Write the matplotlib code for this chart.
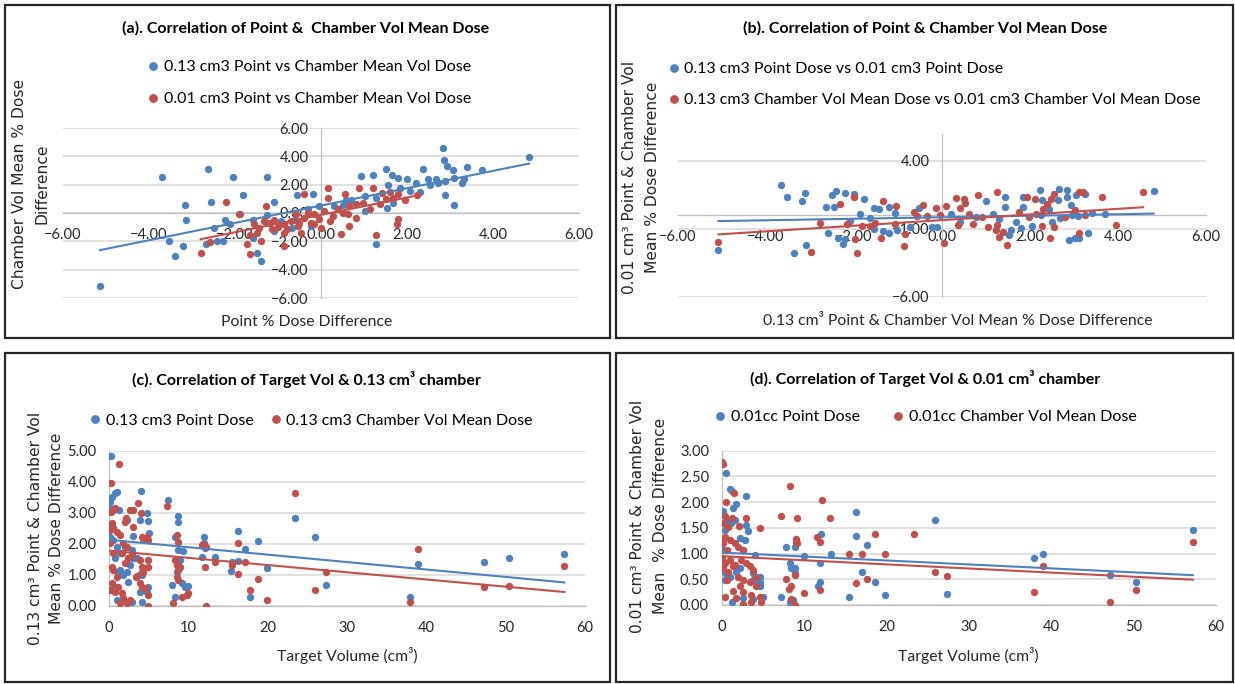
import numpy as np
import matplotlib
matplotlib.use('Agg')
import matplotlib.pyplot as plt
from matplotlib.patches import Rectangle
from matplotlib.lines import Line2D

# Figure size in pixels
W, H = 1235, 684

BLUE = '#4f81bd'
RED = '#c0504d'
GRID = '#d9d9d9'
AXIS = '#bfbfbf'
CAL = 'Lato'          # stands in for Calibri
VER = 'DejaVu Sans'   # stands in for Verdana

"(a) point % diff vs chamber vol mean % diff"
a_blue = [(-5.14, -5.13), (-3.70, 2.53), (-2.63, 3.14), (-2.04, 2.55), (-1.25, 2.53), (-1.81, 1.24),
          (-3.16, 0.54), (-3.13, -0.49), (-2.55, 0.77), (-1.09, 0.80), (-1.88, -0.09), (-3.54, -2.01),
          (-3.22, -2.34), (-3.39, -3.00), (-2.67, -2.20), (-2.49, -1.03), (-2.41, -2.01), (-2.27, -2.01),
          (-2.23, -0.52), (-2.12, -0.80), (-1.48, -2.79), (-1.39, -3.37), (-1.57, -0.52), (-1.25, -0.14),
          (-1.09, -1.26), (-1.57, -1.78), (-0.55, 1.24), (-0.19, 1.31), (-0.23, -0.91), (-0.68, -1.03),
          (-0.05, 0.50), (-0.93, -0.56), (-0.60, -0.50), (-0.30, 0.30), (0.50, 0.60), (0.70, 0.90),
          (2.84, 4.59), (4.84, 3.98), (2.85, 3.72), (2.93, 3.30), (3.07, 3.07), (3.40, 3.26),
          (3.75, 3.02), (2.38, 3.14), (1.51, 3.11), (0.92, 2.60), (1.20, 2.65), (1.65, 2.67),
          (1.80, 2.48), (2.01, 2.37), (2.21, 2.13), (2.48, 2.37), (2.68, 2.41), (2.54, 2.01),
          (2.73, 2.13), (2.89, 2.25), (3.10, 2.48), (3.28, 2.13), (3.32, 2.37), (2.89, 1.24),
          (3.09, 0.54), (2.30, 1.50), (2.07, 1.55), (1.84, 1.73), (1.55, 1.97), (1.54, 0.37),
          (1.29, 1.08), (1.02, 1.19), (1.02, 0.14), (0.31, 0.49), (1.27, -2.20), (1.68, 0.73),
          (0.59, 0.89)]
a_red = [(-2.80, -2.79), (-2.20, 0.80), (-2.57, -2.08), (-1.66, -2.86), (-1.71, -2.20), (-1.40, -2.01),
         (-1.66, -1.55), (-1.91, -0.09), (-1.28, 0.49), (-0.86, -2.32), (-0.39, 1.31), (0.16, 1.73),
         (-0.47, -1.38), (0.00, -1.03), (-1.56, -0.80), (-1.44, -1.03), (-1.32, -0.56), (-1.21, -0.68),
         (-1.09, -0.52), (-1.00, -0.98), (-0.86, -0.80), (-0.78, -1.15), (-0.70, -0.56), (-0.58, -0.09),
         (-0.51, -0.68), (-0.39, -0.33), (-0.31, 0.02), (-0.16, -0.09), (-0.04, -0.44), (-1.48, -1.38),
         (-1.13, -1.15), (-0.86, -1.38), (-0.54, -0.91), (-0.23, -0.68), (0.16, 1.08), (0.55, 1.31),
         (0.88, 1.78), (1.20, 1.78), (1.41, 1.43), (1.60, 1.50), (1.80, 1.36), (1.95, 0.89),
         (2.24, 1.24), (1.80, -0.44), (1.77, -0.80), (1.29, -1.55), (0.47, -1.45), (0.66, -0.91),
         (0.08, 0.14), (0.27, -0.21), (0.39, 0.26), (0.51, 0.02), (0.66, 0.49), (0.82, 0.66),
         (0.98, 0.73), (1.13, 0.26), (1.37, 0.61), (1.52, 0.96), (0.20, -0.56), (-0.16, -0.80),
         (0.82, -0.33), (0.62, -0.09), (1.68, 1.08)]

"(b) 0.13 cm3 vs 0.01 cm3"
b_blue = [(-5.08, -2.59), (-3.65, 2.21), (-3.52, 1.30), (-3.18, 1.03), (-3.11, 1.60), (-3.36, -2.76),
          (-3.09, -2.20), (-2.64, 0.59), (-2.50, 1.48), (-2.41, 1.79), (-2.45, 0.59), (-2.20, 1.62),
          (-2.01, 1.55), (-1.78, 1.18), (-2.59, -1.34), (-2.36, -1.66), (-2.25, -2.10), (-2.20, -1.78),
          (-1.86, 0.05), (-2.08, -0.44), (-1.54, 0.50), (-1.44, 0.42), (-1.21, 0.62), (-1.54, -1.05),
          (-1.35, -1.17), (-1.21, -1.34), (-1.06, 0.13), (-1.02, -1.10), (-0.72, -0.85), (-0.53, 0.54),
          (-0.23, -0.85), (-0.11, -0.85), (-1.63, -0.24), (4.81, 1.75), (2.65, 1.95), (2.83, 1.82),
          (2.83, 1.33), (2.23, 1.82), (3.05, 1.46), (3.26, 1.53), (1.44, 1.33), (1.44, 0.60),
          (1.00, 1.02), (1.83, 0.60), (1.85, 1.33), (2.28, 1.09), (2.43, 0.48), (2.63, 1.09),
          (2.94, 0.72), (2.95, -0.01), (3.41, 0.16), (3.71, 0.06), (2.88, -1.84), (3.03, -1.72),
          (3.12, -1.67), (3.31, -1.28), (2.05, -0.82), (1.79, -0.94), (1.53, -1.43), (1.56, -1.11),
          (1.68, -0.50), (1.30, -0.25), (1.15, 0.11), (0.77, -0.13), (0.21, 0.11), (0.41, -0.50),
          (2.50, -0.50), (2.24, -0.01), (2.69, -0.20), (3.10, -0.06)]
b_red = [(-5.08, -2.00), (-2.98, -2.69), (-2.78, -0.61), (-2.31, 0.81), (-2.17, -0.66), (-2.01, 1.35),
         (-1.98, -1.78), (-1.93, -2.76), (-1.82, -0.78), (-1.63, -0.78), (-1.52, -0.61), (-1.33, 1.03),
         (-1.39, -1.66), (-1.04, 0.69), (-1.06, -0.66), (-0.87, -2.27), (-0.83, -1.42), (-0.64, 0.25),
         (-0.57, -0.04), (-0.43, 0.74), (-0.34, -0.04), (-0.14, 0.54), (-0.05, 0.00), (0.04, -2.08),
         (0.10, 0.70), (4.57, 1.70), (3.11, 1.70), (3.20, 1.70), (3.63, 1.33), (3.95, -0.74),
         (2.54, 1.53), (2.48, 1.21), (2.39, 0.85), (2.30, 0.48), (1.94, 1.33), (2.11, 1.21),
         (1.25, 1.70), (0.81, 1.46), (0.51, 1.21), (0.53, 0.92), (0.31, 1.26), (0.41, 0.55),
         (0.62, 0.06), (0.92, -0.13), (1.26, -0.74), (1.38, -1.23), (1.30, -1.60), (1.47, -2.21),
         (1.23, -1.11), (1.75, 0.23), (1.98, -0.13), (2.14, 0.11), (2.28, -0.79), (2.45, -1.67),
         (2.54, -0.87), (2.80, -0.13), (3.03, 0.36), (3.11, -1.28), (0.36, -0.74), (0.70, -0.62),
         (1.05, -0.87), (3.26, -0.01)]

"(c) target volume vs 0.13 cm3 chamber"
c_blue = [(0.25, 4.84), (0.13, 3.36), (0.34, 3.52), (0.76, 3.63), (1.05, 3.69), (0.00, 3.20),
          (4.03, 3.72), (7.39, 3.42), (8.66, 2.90), (8.66, 2.72), (4.75, 3.01), (4.96, 2.74),
          (5.08, 2.36), (3.91, 2.77), (1.26, 3.09), (2.23, 2.77), (3.07, 2.26), (8.32, 2.23),
          (8.74, 1.80), (9.29, 1.78), (12.0, 2.23), (12.0, 2.04), (11.7, 1.56), (13.3, 1.58),
          (12.1, 1.85), (15.4, 1.12), (15.5, 1.42), (0.13, 2.23), (0.34, 2.55), (0.55, 2.12),
          (0.97, 1.91), (1.39, 1.69), (2.02, 1.91), (2.65, 1.58), (2.86, 1.80), (3.07, 1.53),
          (3.49, 1.53), (0.76, 1.53), (1.39, 1.15), (1.81, 0.99), (2.23, 1.10), (2.65, 1.31),
          (1.18, 1.05), (3.99, 1.05), (4.12, 0.99), (3.91, 0.45), (4.12, 0.13), (0.97, 0.18),
          (2.86, 0.13), (4.75, 0.45), (4.96, 0.61), (7.90, 0.67), (8.53, 1.10), (8.95, 1.48),
          (9.16, 0.74), (9.58, 0.61), (10.0, 0.64), (8.32, 0.29), (2.44, 0.78), (0.76, 0.61),
          (16.3, 2.42), (17.15, 1.82), (16.3, 1.45), (18.75, 2.10), (19.9, 1.23), (23.45, 2.84),
          (25.98, 2.21), (27.4, 0.66), (38.0, 0.27), (39.0, 1.36), (47.25, 1.42), (50.4, 1.55),
          (57.4, 1.68), (17.75, 0.29)]
c_red = [(1.26, 4.58), (0.25, 3.98), (7.27, 3.23), (0.55, 3.09), (0.76, 3.15), (0.21, 3.04),
         (3.70, 3.33), (2.65, 3.09), (3.07, 3.09), (4.03, 3.01), (0.13, 2.45), (0.55, 2.50),
         (0.97, 2.39), (0.34, 2.66), (1.39, 2.28), (2.02, 2.72), (2.14, 2.82), (3.07, 2.55),
         (4.75, 2.23), (4.96, 2.12), (0.13, 2.02), (4.12, 2.23), (8.61, 2.28), (8.74, 2.07),
         (11.9, 1.98), (12.2, 1.91), (1.81, 2.02), (2.23, 1.91), (0.55, 1.69), (1.60, 1.69),
         (4.33, 2.14), (2.94, 1.64), (2.44, 1.53), (3.91, 1.48), (4.96, 1.48), (8.32, 1.48),
         (8.53, 1.31), (8.95, 1.26), (8.66, 1.15), (12.1, 1.26), (13.4, 1.42), (11.7, 1.96),
         (15.5, 1.31), (0.55, 1.15), (0.34, 1.26), (0.97, 0.94), (2.02, 1.37), (3.49, 0.96),
         (4.12, 1.26), (4.33, 1.10), (4.96, 1.26), (0.34, 0.72), (1.18, 0.61), (0.13, 0.51),
         (0.76, 0.45), (1.60, 0.40), (1.81, 0.24), (2.23, 0.08), (2.65, 0.18), (1.39, 0.08),
         (3.91, 0.72), (4.12, 0.61), (4.54, 0.56), (4.96, 0.34), (4.87, 0.00), (3.40, 0.92),
         (8.03, 0.08), (8.53, 0.94), (8.74, 0.83), (9.16, 0.29), (9.79, 0.34), (12.2, 0.00),
         (10.0, 0.40), (16.3, 2.02), (17.15, 1.42), (16.3, 1.02), (17.75, 0.51), (18.75, 0.85),
         (19.9, 0.18), (23.45, 3.65), (25.98, 0.50), (27.4, 1.09), (38.0, 0.11), (39.0, 1.83),
         (47.25, 0.61), (50.4, 0.65), (57.4, 1.29)]

"(d) target volume vs 0.01 cm3 chamber"
d_blue = [(0.53, 2.56), (1.01, 2.25), (1.33, 2.22), (3.03, 2.11), (1.74, 1.96), (1.41, 1.88),
          (0.20, 1.83), (0.61, 1.65), (1.21, 1.59), (3.03, 1.56), (3.23, 1.43), (1.62, 1.65),
          (2.22, 1.30), (2.83, 1.26), (0.20, 1.07), (0.00, 1.26), (0.40, 1.46), (4.04, 0.97),
          (2.63, 1.07), (7.88, 1.12), (8.89, 1.13), (9.09, 1.20), (10.0, 0.96), (12.1, 1.39),
          (12.0, 0.82), (8.28, 0.82), (8.48, 0.71), (8.89, 0.71), (8.89, 0.62), (11.9, 0.45),
          (11.7, 0.36), (0.40, 0.62), (1.01, 0.55), (1.82, 0.65), (2.22, 0.71), (3.84, 0.49),
          (4.65, 0.55), (4.65, 0.45), (4.65, 0.36), (0.40, 0.49), (3.84, 0.62), (1.33, 0.05),
          (2.63, 0.13), (5.05, 0.16), (7.27, 0.16), (8.28, 0.06), (8.69, 0.10), (3.84, 0.11),
          (13.3, 1.00), (16.35, 1.81), (16.35, 1.35), (17.66, 1.17), (17.05, 0.64), (18.67, 0.44),
          (19.8, 0.19), (15.5, 0.15), (25.9, 1.65), (27.36, 0.21), (37.9, 0.92), (38.95, 1.00),
          (47.15, 0.58), (50.3, 0.45), (57.2, 1.46)]
d_red = [(0.12, 2.79), (0.20, 2.74), (8.28, 2.32), (1.54, 2.18), (0.53, 2.01), (7.19, 1.74),
         (9.21, 1.70), (12.2, 2.05), (13.2, 1.69), (3.03, 1.70), (4.65, 1.49), (0.40, 1.73),
         (1.33, 1.69), (2.14, 1.54), (0.20, 1.59), (0.81, 1.52), (0.40, 1.33), (1.01, 1.26),
         (1.62, 1.20), (0.20, 1.20), (0.69, 1.07), (2.02, 1.13), (2.63, 1.07), (9.09, 1.28),
         (9.17, 1.21), (11.6, 1.33), (12.0, 1.23), (0.08, 0.91), (0.40, 0.81), (1.01, 0.87),
         (1.62, 0.78), (2.42, 0.87), (3.03, 0.81), (3.43, 0.75), (3.84, 0.68), (0.20, 0.71),
         (0.81, 0.65), (1.41, 0.75), (2.02, 0.55), (2.63, 0.49), (3.43, 0.45), (4.24, 0.55),
         (0.61, 0.49), (0.40, 0.16), (1.41, 0.28), (2.22, 0.36), (2.63, 0.26), (3.64, 0.19),
         (1.82, 0.13), (2.55, 0.01), (3.64, 0.06), (4.85, 0.06), (4.65, 0.16), (4.24, 0.36),
         (7.88, 0.50), (8.20, 0.32), (8.48, 0.36), (8.48, 0.11), (8.89, 0.00), (8.89, 0.58),
         (9.98, 0.24), (11.9, 0.29), (15.5, 1.00), (17.05, 1.00), (18.67, 1.39), (19.8, 1.00),
         (16.35, 0.42), (17.66, 0.51), (23.3, 1.38), (25.9, 0.65), (27.36, 0.57), (37.9, 0.25),
         (38.95, 0.75), (47.15, 0.06), (50.3, 0.29), (57.2, 1.22)]

"Linear trendlines as read off the chart: (slope, intercept) for blue, red"
a_fits = [(0.612, 0.526), (0.613, -0.133)]
b_fits = [(0.0556, -0.158), (0.207, -0.368)]
c_fits = [(-0.0240, 2.13), (-0.0233, 1.78)]
d_fits = [(-0.0077, 1.02), (-0.0080, 0.95)]

titles = ['(a). Correlation of Point &  Chamber Vol Mean Dose',
          '(b). Correlation of Point & Chamber Vol Mean Dose',
          '(c). Correlation of Target Vol & 0.13 cm³ chamber',
          '(d). Correlation of Target Vol & 0.01 cm³ chamber']
legend_labels = [['0.13 cm3 Point vs Chamber Mean Vol Dose', '0.01 cm3 Point vs Chamber Mean Vol Dose'],
                 ['0.13 cm3 Point Dose vs 0.01 cm3 Point Dose',
                  '0.13 cm3 Chamber Vol Mean Dose vs 0.01 cm3 Chamber Vol Mean Dose'],
                 ['0.13 cm3 Point Dose', '0.13 cm3 Chamber Vol Mean Dose'],
                 ['0.01cc Point Dose', '0.01cc Chamber Vol Mean Dose']]
ylabels = [['Chamber Vol Mean % Dose', 'Difference'],
           ['0.01 cm³ Point & Chamber Vol', 'Mean % Dose Difference'],
           ['0.13 cm³ Point & Chamber Vol', 'Mean % Dose Difference'],
           ['0.01 cm³ Point & Chamber Vol', 'Mean  % Dose Difference']]
xlabels = ['Point % Dose Difference',
           '0.13 cm³ Point & Chamber Vol Mean % Dose Difference',
           'Target Volume (cm³)', 'Target Volume (cm³)']


def fx(x):
    return x / W


def fy(y):
    return 1 - y / H


def box(l, t, r, b):
    return [l / W, 1 - b / H, (r - l) / W, (b - t) / H]


def scatter_pair(ax, blue, red, fits):
    for pts, c in [(blue, BLUE), (red, RED)]:
        xs, ys = np.array(pts).T
        ax.scatter(xs, ys, s=28, color=c, linewidths=0, zorder=3)
    # trendline over the x range of each series
    for pts, c, (k, m) in zip([blue, red], [BLUE, RED], fits):
        xs = np.array(pts)[:, 0]
        xx = np.array([xs.min(), xs.max()])
        ax.plot(xx, k * xx + m, color=c, lw=1.5, zorder=4)


def style_axes(ax, crossing):
    ax.set_facecolor('none')
    for s in ['top', 'right']:
        ax.spines[s].set_visible(False)
    for s in ['left', 'bottom']:
        ax.spines[s].set_color(AXIS)
        ax.spines[s].set_linewidth(0.9)
        if crossing:
            ax.spines[s].set_position('zero')
    ax.yaxis.grid(True, color=GRID, lw=1.1)
    ax.set_axisbelow(True)
    ax.tick_params(length=0, labelsize=10.5, labelcolor='#262626', labelfontfamily=CAL)
    ax.tick_params(axis='x', pad=11)
    ax.tick_params(axis='y', pad=9)


def legend_entry(x, y, color, label):
    h = Line2D([], [], marker='o', ls='none', color=color, markersize=5.3)
    fig.legend([h], [label], loc='center left', bbox_to_anchor=(fx(x - 4), fy(y)),
               frameon=False, borderpad=0, borderaxespad=0, handlelength=0.55,
               handletextpad=0.38, prop={'family': CAL, 'size': 11.5})


fig = plt.figure(figsize=(W / 100, H / 100), dpi=100)

# panel frames
for l, t, r, b in [(5, 5, 610, 338), (616, 5, 1233, 338), (5, 353, 610, 682), (616, 353, 1233, 682)]:
    fig.patches.append(Rectangle((fx(l), fy(b)), (r - l) / W, (b - t) / H, transform=fig.transFigure,
                                 fill=False, edgecolor='#262626', lw=1.6))

# (a)
ax = fig.add_axes(box(63, 128, 579, 298))
style_axes(ax, True)
scatter_pair(ax, a_blue, a_red, a_fits)
ax.set_xlim(-6, 6)
ax.set_ylim(-6, 6)
ax.set_xticks(np.arange(-6, 7, 2))
ax.set_yticks(np.arange(-6, 7, 2))
ax.xaxis.set_major_formatter('{x:.2f}')
ax.yaxis.set_major_formatter('{x:.2f}')

# (b)
ax = fig.add_axes(box(678, 133.5, 1206, 296.7))
style_axes(ax, True)
scatter_pair(ax, b_blue, b_red, b_fits)
ax.set_xlim(-6, 6)
ax.set_ylim(-6, 6)
ax.set_xticks(np.arange(-6, 7, 2))
ax.set_yticks([-6, -1, 4])
ax.xaxis.set_major_formatter('{x:.2f}')
ax.yaxis.set_major_formatter('{x:.2f}')

# (c)
ax = fig.add_axes(box(109, 451, 585, 605.7))
style_axes(ax, False)
scatter_pair(ax, c_blue, c_red, c_fits)
ax.set_xlim(0, 60)
ax.set_ylim(0, 5)
ax.set_xticks(np.arange(0, 61, 10))
ax.set_yticks(np.arange(0, 5.01, 1))
ax.yaxis.set_major_formatter('{x:.2f}')

# (d)
ax = fig.add_axes(box(721.5, 450.7, 1216, 605))
style_axes(ax, False)
scatter_pair(ax, d_blue, d_red, d_fits)
ax.set_xlim(0, 60)
ax.set_ylim(0, 3)
ax.set_xticks(np.arange(0, 61, 10))
ax.set_yticks(np.arange(0, 3.01, 0.5))
ax.yaxis.set_major_formatter('{x:.2f}')

# titles
for (x, y), t in zip([(306, 28), (925, 28), (306, 379), (925, 378)], titles):
    fig.text(fx(x), fy(y), t, ha='center', va='center', family=CAL, weight='bold', size=11.5)

# legends
for (x1, y1, x2, y2), labs in zip([(153, 67, 153, 99), (673.5, 69, 673.5, 100),
                                  (95, 420.7, 275.5, 420.7), (720, 417, 898, 417)], legend_labels):
    legend_entry(x1, y1, BLUE, labs[0])
    legend_entry(x2, y2, RED, labs[1])

# y axis titles (two lines each)
for (x1, x2, y), labs in zip([(20, 41.5, 184), (630, 652, 177), (36, 57, 528), (638, 660, 516)], ylabels):
    fig.text(fx(x1), fy(y), labs[0], rotation=90, ha='center', va='center', family=VER, size=11.2,
             color='#262626')
    fig.text(fx(x2), fy(y), labs[1], rotation=90, ha='center', va='center', family=VER, size=11.2,
             color='#262626')

# x axis titles
for (x, y), t in zip([(307, 322), (958, 321), (347, 655), (968, 655)], xlabels):
    fig.text(fx(x), fy(y), t, ha='center', va='center', family=CAL, size=11.3, color='#262626')

fig.savefig('out.png', dpi=100, facecolor='white')
